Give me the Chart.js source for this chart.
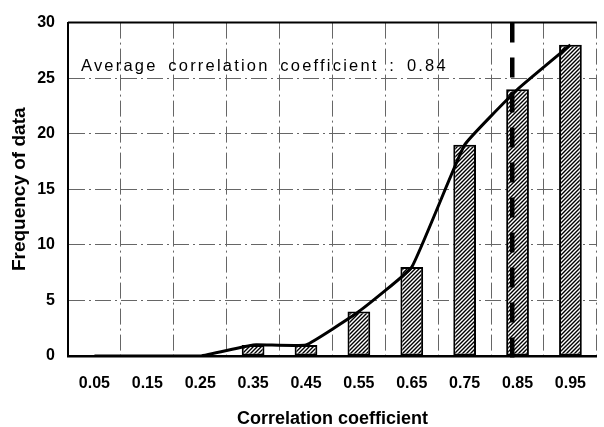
<!DOCTYPE html>
<html>
<head>
<meta charset="utf-8">
<script src="https://cdn.jsdelivr.net/npm/chart.js@4.4.1/dist/chart.umd.min.js"></script>
<style>
  html, body { margin: 0; padding: 0; background: #fff; }
  #corrChart { display: block; }
</style>
</head>
<body>
<canvas id="corrChart" width="604" height="427"></canvas>
<script>
// histogram of correlation coefficients
const binLabels = ["0.05", "0.15", "0.25", "0.35", "0.45", "0.55", "0.65", "0.75", "0.85", "0.95"];
const binWidth = 0.1;
const frequency = [0, 0, 0, 1, 1, 4, 8, 19, 24, 28];
const averageCoef = 0.84;
const yMax = 30;
const yStep = 5;

const labelFont = "'Liberation Sans', Arial, sans-serif";

// diagonal hatch fill for the bars
function makeHatch() {
  const size = 4;
  const c = document.createElement("canvas");
  c.width = size;
  c.height = size;
  const g = c.getContext("2d");
  g.fillStyle = "#fff";
  g.fillRect(0, 0, size, size);
  g.strokeStyle = "#000";
  g.lineWidth = 1.4;
  g.beginPath();
  g.moveTo(0, size);
  g.lineTo(size, 0);
  g.moveTo(-1, 1);
  g.lineTo(1, -1);
  g.moveTo(size - 1, size + 1);
  g.lineTo(size + 1, size - 1);
  g.stroke();
  return g.createPattern(c, "repeat");
}

// top frame, average line and caption
const overlayPlugin = {
  id: "overlay",
  afterDatasetsDraw(chart) {
    const { ctx, chartArea, scales } = chart;
    const x = scales.x;

    ctx.save();
    ctx.strokeStyle = "#000";
    ctx.lineWidth = 2;
    ctx.beginPath();
    ctx.moveTo(chartArea.left, chartArea.top);
    ctx.lineTo(chartArea.right, chartArea.top);
    ctx.stroke();

    // position of the average between bin centres
    const idx = binLabels.indexOf("0.85");
    const step = x.getPixelForValue(idx + 1) - x.getPixelForValue(idx);
    const avgX = x.getPixelForValue(idx) + ((averageCoef - 0.85) / binWidth) * step;
    ctx.lineWidth = 4.5;
    ctx.setLineDash([20, 15]);
    ctx.beginPath();
    ctx.moveTo(avgX, chartArea.top);
    ctx.lineTo(avgX, chartArea.bottom + 3);
    ctx.stroke();
    ctx.setLineDash([]);

    ctx.fillStyle = "#000";
    ctx.font = "16.5px " + labelFont;
    ctx.letterSpacing = "2.2px";
    ctx.wordSpacing = "4px";
    ctx.textBaseline = "alphabetic";
    ctx.textAlign = "left";
    ctx.fillText("Average correlation coefficient : " + averageCoef.toFixed(2), chartArea.left + 13, chartArea.top + 48);
    ctx.restore();
  },
};

const gridDash = [16, 4, 2, 4];

new Chart(document.getElementById("corrChart"), {
  data: {
    labels: binLabels,
    datasets: [
      {
        type: "line",
        data: frequency,
        borderColor: "#000",
        borderWidth: 3,
        pointRadius: 0,
        tension: 0.1,
        order: 0,
      },
      {
        type: "bar",
        data: frequency,
        backgroundColor: makeHatch(),
        borderColor: "#000",
        borderWidth: 2,
        borderSkipped: false,
        barPercentage: 0.86,
        categoryPercentage: 0.5,
        order: 1,
      },
    ],
  },
  options: {
    responsive: false,
    animation: false,
    layout: { padding: { top: 20, right: 0, left: 0, bottom: 0 } },
    plugins: {
      legend: { display: false },
      tooltip: { enabled: false },
    },
    scales: {
      x: {
        grid: { offset: true, color: "#666", lineWidth: 1, drawTicks: false },
        border: { display: true, color: "#000", width: 2.5, dash: gridDash },
        ticks: {
          color: "#000",
          padding: 18,
          font: { family: labelFont, size: 16, weight: "bold" },
        },
        title: {
          display: true,
          text: "Correlation coefficient",
          color: "#000",
          padding: { top: 0, bottom: -3 },
          font: { family: labelFont, size: 18, weight: "bold" },
        },
        afterFit(scale) {
          scale.height = 71;
        },
      },
      y: {
        min: 0,
        max: yMax,
        grid: { color: "#666", lineWidth: 1, drawTicks: false },
        border: { display: true, color: "#000", width: 2, dash: gridDash },
        ticks: {
          stepSize: yStep,
          color: "#000",
          padding: 13,
          font: { family: labelFont, size: 16, weight: "bold" },
        },
        title: {
          display: true,
          text: "Frequency of data",
          color: "#000",
          padding: { top: 8, bottom: 0 },
          font: { family: labelFont, size: 19, weight: "bold" },
        },
        afterFit(scale) {
          scale.width = 68;
        },
      },
    },
  },
  plugins: [overlayPlugin],
});
</script>
</body>
</html>
